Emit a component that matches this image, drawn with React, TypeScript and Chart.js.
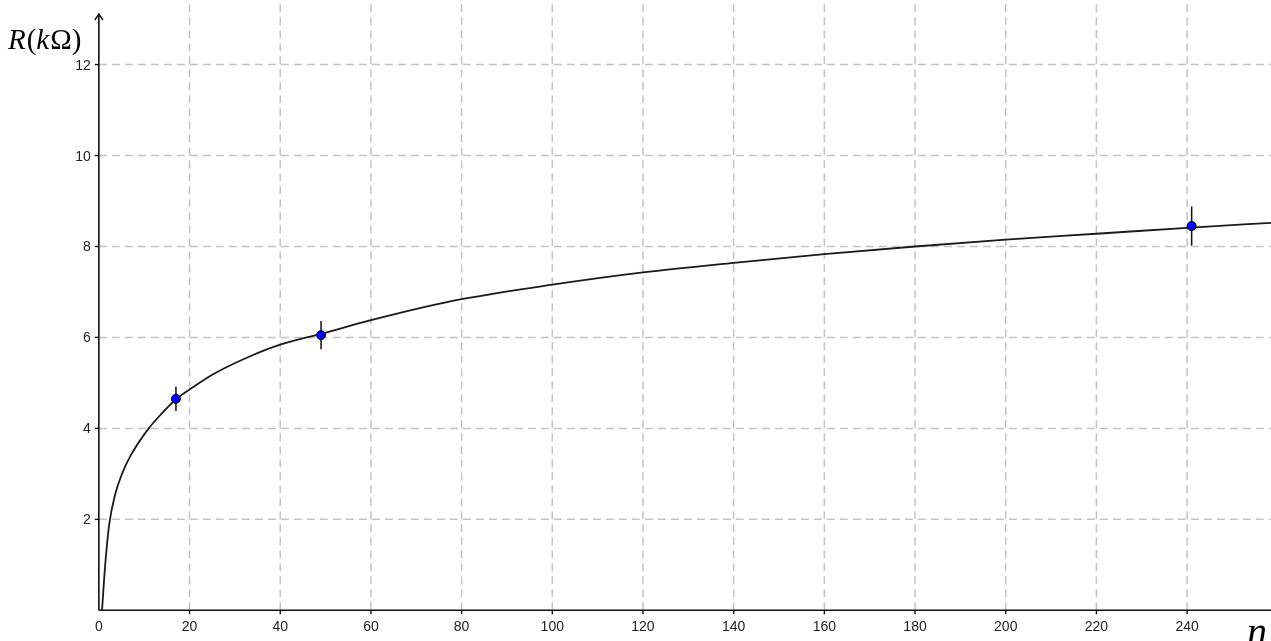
import React, { useEffect, useRef } from "react";
import { Chart, registerables } from "chart.js";

Chart.register(...registerables);

// Fitted curve (n, R in kΩ)
const curveN = [0.7, 1.4, 2.3, 3.6, 5.1, 7, 11, 14, 17, 21, 25, 33, 40, 49, 60, 66, 80, 100, 120, 140, 160, 180, 200, 220, 240, 260];
const curveR = [0, 1.0, 1.9, 2.55, 3.0, 3.4, 4.0, 4.34, 4.64, 4.92, 5.18, 5.57, 5.84, 6.08, 6.38, 6.53, 6.84, 7.16, 7.43, 7.64, 7.83, 8.0, 8.15, 8.28, 8.41, 8.53];

// Measured points with error bars
const pointN = [17, 49, 241];
const pointR = [4.65, 6.05, 8.45];
const pointErr = [0.27, 0.31, 0.43];

// Axis ticks
const xTicks = [0, 20, 40, 60, 80, 100, 120, 140, 160, 180, 200, 220, 240];
const yTicks = [2, 4, 6, 8, 10, 12];
const xRange = [-21.8, 258.5];
const yRange = [-0.675, 13.42];

const geoPlugin = {
  id: "geoAxes",
  beforeDatasetsDraw(chart: any) {
    const { ctx, scales } = chart;
    const x = scales.x;
    const y = scales.y;
    const W = chart.width;
    const x0 = x.getPixelForValue(0);
    const y0 = y.getPixelForValue(0);
    ctx.save();
    // grid
    ctx.strokeStyle = "rgb(195,195,195)";
    ctx.lineWidth = 1.5;
    ctx.setLineDash([8, 5]);
    xTicks.forEach((t) => {
      if (t === 0) return;
      const px = x.getPixelForValue(t);
      ctx.beginPath();
      ctx.moveTo(px, y0);
      ctx.lineTo(px, 0);
      ctx.stroke();
    });
    yTicks.forEach((t) => {
      const py = y.getPixelForValue(t);
      ctx.beginPath();
      ctx.moveTo(x0, py);
      ctx.lineTo(W, py);
      ctx.stroke();
    });
    ctx.setLineDash([]);

    // axes
    ctx.strokeStyle = "#111";
    ctx.lineWidth = 1.6;
    ctx.beginPath();
    ctx.moveTo(x0, y0);
    ctx.lineTo(W, y0);
    ctx.moveTo(x0, y0);
    ctx.lineTo(x0, 14);
    ctx.stroke();
    // arrow on y axis
    ctx.lineWidth = 1.4;
    ctx.beginPath();
    ctx.moveTo(x0 - 4, 20);
    ctx.lineTo(x0, 14);
    ctx.lineTo(x0 + 4, 20);
    ctx.stroke();

    // tick marks and labels
    ctx.fillStyle = "#222";
    ctx.font = "14px 'Liberation Sans', Arial, sans-serif";
    ctx.lineWidth = 1.4;
    ctx.textAlign = "center";
    ctx.textBaseline = "alphabetic";
    xTicks.forEach((t) => {
      const px = x.getPixelForValue(t);
      if (t !== 0) {
        ctx.beginPath();
        ctx.moveTo(px, y0);
        ctx.lineTo(px, y0 + 4);
        ctx.stroke();
      }
      ctx.fillText(String(t), px, y0 + 20.5);
    });
    ctx.textAlign = "right";
    yTicks.forEach((t) => {
      const py = y.getPixelForValue(t);
      ctx.beginPath();
      ctx.moveTo(x0 - 4, py);
      ctx.lineTo(x0, py);
      ctx.stroke();
      ctx.fillText(String(t), x0 - 8, py + 5);
    });

    // error bars
    ctx.strokeStyle = "#111";
    ctx.lineWidth = 1.5;
    pointN.forEach((n, i) => {
      const px = x.getPixelForValue(n);
      const pTop = y.getPixelForValue(pointR[i] + pointErr[i]);
      const pBot = y.getPixelForValue(pointR[i] - pointErr[i]);
      ctx.beginPath();
      ctx.moveTo(px, pTop);
      ctx.lineTo(px, pBot);
      ctx.stroke();
    });
    ctx.restore();
  },
  afterDraw(chart: any) {
    const { ctx } = chart;
    ctx.save();
    ctx.fillStyle = "#000";
    ctx.textAlign = "left";
    ctx.textBaseline = "alphabetic";
    const italic = "italic 29px 'Liberation Serif', 'Times New Roman', serif";
    const upright = "29px 'Liberation Serif', 'Times New Roman', serif";
    const parts: [string, string][] = [
      ["R", italic],
      ["(", upright],
      ["k", italic],
      ["Ω", upright],
      [")", upright],
    ];
    let cx = 8;
    parts.forEach(([s, f]) => {
      ctx.font = f;
      ctx.fillText(s, cx, 49);
      cx += ctx.measureText(s).width + (f === italic ? 1 : 0);
    });
    ctx.font = "italic 40px 'Liberation Serif', 'Times New Roman', serif";
    ctx.fillText("n", 1247, 645);
    ctx.restore();
  },
};

export default function App() {
  const ref = useRef<HTMLCanvasElement | null>(null);
  useEffect(() => {
    document.body.style.margin = "0";
    const canvas = ref.current;
    if (!canvas) return;
    const chart = new Chart(canvas, {
      type: "scatter",
      data: {
        datasets: [
          {
            label: "measurements",
            data: pointN.map((n, i) => ({ x: n, y: pointR[i] })),
            backgroundColor: "rgb(0,0,255)",
            borderColor: "#000",
            borderWidth: 1,
            pointRadius: 4.5,
            showLine: false,
            order: 0,
          },
          {
            label: "fit",
            data: curveN.map((n, i) => ({ x: n, y: curveR[i] })),
            showLine: true,
            borderColor: "#1a1a1a",
            borderWidth: 1.8,
            pointRadius: 0,
            cubicInterpolationMode: "monotone",
            fill: false,
            order: 1,
          } as any,
        ],
      },
      options: {
        animation: false,
        responsive: false,
        devicePixelRatio: 1,
        layout: { padding: 0, autoPadding: false },
        plugins: { legend: { display: false }, tooltip: { enabled: false } },
        scales: {
          x: { type: "linear", display: false, min: xRange[0], max: xRange[1] },
          y: { type: "linear", display: false, min: yRange[0], max: yRange[1] },
        },
      } as any,
      plugins: [geoPlugin],
    });
    return () => chart.destroy();
  }, []);
  return (
    <div style={{ position: "relative", width: 1271, height: 641, background: "#fff" }}>
      <canvas ref={ref} width={1271} height={641} style={{ display: "block" }} />
    </div>
  );
}
